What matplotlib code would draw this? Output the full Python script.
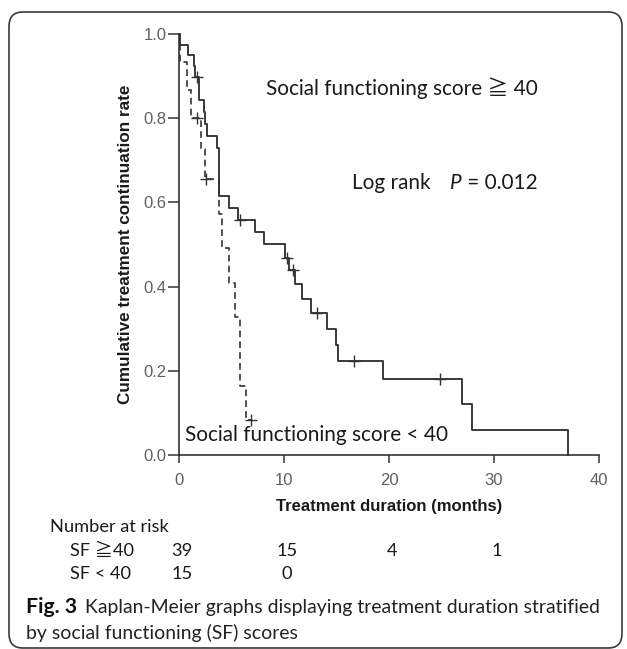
import matplotlib
matplotlib.use("Agg")
import matplotlib.pyplot as plt
import numpy as np
from matplotlib.patches import FancyBboxPatch
from matplotlib.transforms import blended_transform_factory

# ---------------- data ----------------
# SF >= 40 group (solid): step times (months) and survival after each step
solid_t = [0, 0.08, 0.9, 1.4, 1.5, 1.9, 2.35, 2.45, 2.65, 3.6, 3.8, 4.8, 5.6,
           7.2, 8.1, 10.1, 10.5, 11.0, 11.7, 12.6, 14.1, 14.95, 15.15, 19.4,
           26.95, 27.95, 37.0]
solid_s = [1.0, 0.974, 0.949, 0.923, 0.897, 0.844, 0.814, 0.787, 0.757, 0.729,
           0.616, 0.587, 0.558, 0.530, 0.501, 0.469, 0.439, 0.406, 0.371, 0.337,
           0.300, 0.261, 0.224, 0.180, 0.120, 0.060, 0.0]
solid_cens = [1.7, 5.8, 10.24, 10.85, 13.15, 16.7, 24.9]

# SF < 40 group (dashed)
dash_t = [0, 0.1, 0.75, 1.15, 2.1, 2.45, 3.8, 4.13, 4.76, 5.37, 5.78, 6.4, 6.9]
dash_s = [1.0, 0.933, 0.867, 0.8, 0.727, 0.655, 0.573, 0.491, 0.409, 0.327,
          0.164, 0.082, 0.082]
dash_cens = [1.7, 2.6, 6.9]

x_ticks = [0, 10, 20, 30, 40]
y_ticks = [0.0, 0.2, 0.4, 0.6, 0.8, 1.0]

risk_times = [0, 10, 20, 30]
risk_ge40 = [39, 15, 4, 1]
risk_lt40 = [15, 0]

# ---------------- figure ----------------
W, H = 627, 649
fig = plt.figure(figsize=(W / 100, H / 100), dpi=100)
renderer = fig.canvas.get_renderer()


def fx(x):
    return x / W


def fy(y):
    return 1 - y / H


# rounded frame
frame = FancyBboxPatch((fx(9), fy(648)), fx(622) - fx(9), fy(12) - fy(648),
                       boxstyle="round,pad=0,rounding_size=0.022",
                       transform=fig.transFigure, fill=False,
                       edgecolor="#3a3a3a", linewidth=1.2)
fig.patches.append(frame)

ax = fig.add_axes([fx(179), fy(455), fx(599) - fx(179), fy(34) - fy(455)])
ax.set_xlim(0, 40)
ax.set_ylim(0, 1.0)
for sp in ["top", "right"]:
    ax.spines[sp].set_visible(False)
for sp in ["left", "bottom"]:
    ax.spines[sp].set_color("#333333")
    ax.spines[sp].set_linewidth(1.2)

line_col = "#333333"
ax.step(solid_t, solid_s, where="post", color=line_col, lw=1.35, clip_on=False)
ax.step(dash_t, dash_s, where="post", color=line_col, lw=1.2,
        dashes=(4, 2.5), clip_on=False)


def surv_at(ts, ss, t):
    i = np.searchsorted(ts, t, side="right") - 1
    return np.asarray(ss)[i]


ax.plot(solid_cens, surv_at(solid_t, solid_s, solid_cens), ls="none",
        marker="+", ms=8, mew=1.0, color=line_col, clip_on=False)
ax.plot(dash_cens, surv_at(dash_t, dash_s, dash_cens), ls="none",
        marker="+", ms=8, mew=1.0, color=line_col, clip_on=False)

ax.set_xticks(x_ticks)
ax.set_yticks(y_ticks)
ax.set_yticklabels([f"{v:.1f}" for v in y_ticks])
ax.tick_params(axis="y", direction="out", length=8, width=1.1, pad=1,
               colors="#333333", labelcolor="#606060", labelsize=12)
ax.tick_params(axis="x", direction="out", length=6, width=1.1, pad=7,
               colors="#333333", labelcolor="#606060", labelsize=12)
for lab in ax.get_xticklabels() + ax.get_yticklabels():
    lab.set_fontfamily("Liberation Sans")

fig.text(fx(126), fy(244.5), "Cumulative treatment continuation rate",
         rotation=90, ha="center", va="center", fontsize=12.3,
         fontweight="bold", family="Liberation Sans", color="#1a1a1a")
fig.text(fx(389), fy(507), "Treatment duration (months)", ha="center",
         va="center", fontsize=12, fontweight="bold", family="Liberation Sans",
         color="#1a1a1a")

FAM = ["Lato", "Noto Sans CJK JP", "DejaVu Sans"]


def width_of(t):
    return t.get_window_extent(renderer=renderer).width


def fit(x, y, s, width, base=12, **kw):
    t = fig.text(fx(x), fy(y), s, fontsize=base, ha="left", va="center", **kw)
    t.set_fontsize(base * width / width_of(t))
    return t


# annotations inside the plot
a1 = fit(266, 88, "Social functioning score \u2267 40", 272, family=FAM,
         color="#1a1a1a")
fs_ann = a1.get_fontsize()
fig.text(fx(352), fy(183), "Log rank", fontsize=fs_ann, family=FAM,
         ha="left", va="center", color="#1a1a1a")
tp = fig.text(fx(450), fy(183), "P", fontsize=fs_ann, family=FAM,
              style="italic", ha="left", va="center", color="#1a1a1a")
fig.text(fx(450) + width_of(tp) / W, fy(183), " = 0.012", fontsize=fs_ann,
         family=FAM, ha="left", va="center", color="#1a1a1a")
fig.text(fx(185), fy(435), "Social functioning score < 40", fontsize=fs_ann,
         family=FAM, ha="left", va="center", color="#1a1a1a")

# number at risk table
r0 = fit(50, 527, "Number at risk", 118, family=FAM, color="#1a1a1a")
fs_r = r0.get_fontsize()
fig.text(fx(70), fy(551), "SF \u226740", fontsize=fs_r, family=FAM,
         ha="left", va="center", color="#1a1a1a")
fig.text(fx(70), fy(574), "SF < 40", fontsize=fs_r, family=FAM,
         ha="left", va="center", color="#1a1a1a")
tr = blended_transform_factory(ax.transData, fig.transFigure)
for t, n in zip(risk_times, risk_ge40):
    fig.text(t + 0.3, fy(551), str(n), transform=tr, fontsize=fs_r,
             family=FAM, ha="center", va="center", color="#1a1a1a")
for t, n in zip(risk_times, risk_lt40):
    fig.text(t + 0.3, fy(574), str(n), transform=tr, fontsize=fs_r,
             family=FAM, ha="center", va="center", color="#1a1a1a")

# caption
cap_b = fig.text(fx(26), fy(607), "Fig. 3", fontsize=12, family=FAM,
                 fontweight="bold", ha="left", va="center", color="#111111")
cap_r = fig.text(fx(85), fy(607),
                 "Kaplan-Meier graphs displaying treatment duration stratified",
                 fontsize=12, family=FAM, ha="left", va="center",
                 color="#222222")
sc = 513 / width_of(cap_r)
cap_r.set_fontsize(12 * sc)
cap_b.set_fontsize(12 * 51 / width_of(cap_b))
fig.text(fx(26), fy(633), "by social functioning (SF) scores",
         fontsize=cap_r.get_fontsize(), family=FAM, ha="left", va="center",
         color="#222222")

fig.savefig("out.png", dpi=100)
